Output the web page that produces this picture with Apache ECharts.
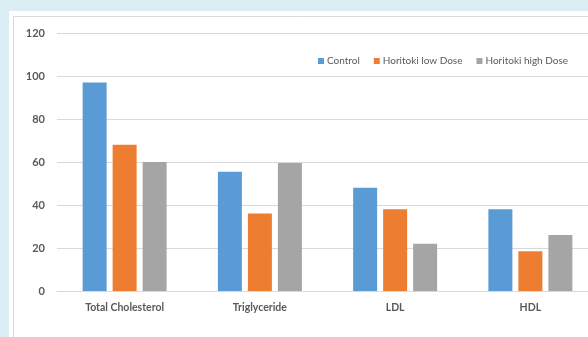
<!DOCTYPE html>
<html>
<head>
<meta charset="utf-8">
<script src="https://cdn.jsdelivr.net/npm/echarts@6/dist/echarts.min.js"></script>
<style>
  html, body { margin: 0; padding: 0; background: #daedf3; }
  #chart { width: 588px; height: 337px; }
</style>
</head>
<body>
<div id="chart"></div>
<script>
// Lipid profile by group
const categories = ['Total Cholesterol', 'Triglyceride', 'LDL', 'HDL'];
const seriesNames = ['Control', 'Horitoki low Dose', 'Horitoki high Dose'];
const controlValues = [97, 55.5, 48, 38];
const lowDoseValues = [68, 36, 38, 18.5];
const highDoseValues = [60, 59.5, 22, 26];
const yTicks = { min: 0, max: 120, interval: 20 };

const colors = ['#5b9bd5', '#ed7d31', '#a5a5a5'];
const textColor = '#595959';
const fontFamily = 'Lato, "Open Sans", sans-serif';

const chart = echarts.init(document.getElementById('chart'), null, { renderer: 'canvas' });

const makeSeries = (name, data, i) => ({
  name: name,
  type: 'bar',
  data: data,
  barWidth: 24,
  barGap: '25%',
  itemStyle: { color: colors[i] },
  z: 3
});

chart.setOption({
  backgroundColor: '#daedf3',
  animation: false,
  graphic: [
    { type: 'rect', z: -10, silent: true, shape: { x: 9, y: 11, width: 620, height: 400 }, style: { fill: '#ffffff' } },
    { type: 'rect', z: -9, silent: true, shape: { x: 13.5, y: 16.5, width: 620, height: 400 }, style: { fill: 'none', stroke: '#d9d9d9', lineWidth: 1 } }
  ],
  legend: {
    data: seriesNames,
    left: 313,
    top: 51,
    icon: 'rect',
    itemWidth: 6,
    itemHeight: 6,
    itemGap: 14,
    textStyle: { color: textColor, fontSize: 10, fontFamily: fontFamily, padding: [0, 0, 0, -2] }
  },
  grid: { left: 57, top: 33, width: 541, bottom: 46, containLabel: false, outerBoundsMode: 'none' },
  xAxis: {
    type: 'category',
    data: categories,
    axisLine: { lineStyle: { color: '#d9d9d9' } },
    axisTick: { show: false },
    axisLabel: { color: textColor, fontWeight: 'bold', fontSize: 10.5, fontFamily: fontFamily, margin: 11 }
  },
  yAxis: {
    type: 'value',
    min: yTicks.min,
    max: yTicks.max,
    interval: yTicks.interval,
    axisLine: { show: false },
    axisTick: { show: false },
    splitLine: { lineStyle: { color: '#d9d9d9' } },
    axisLabel: { color: textColor, fontWeight: 'bold', fontSize: 11, fontFamily: fontFamily, margin: 12 }
  },
  series: [
    makeSeries(seriesNames[0], controlValues, 0),
    makeSeries(seriesNames[1], lowDoseValues, 1),
    makeSeries(seriesNames[2], highDoseValues, 2)
  ]
});
</script>
</body>
</html>
